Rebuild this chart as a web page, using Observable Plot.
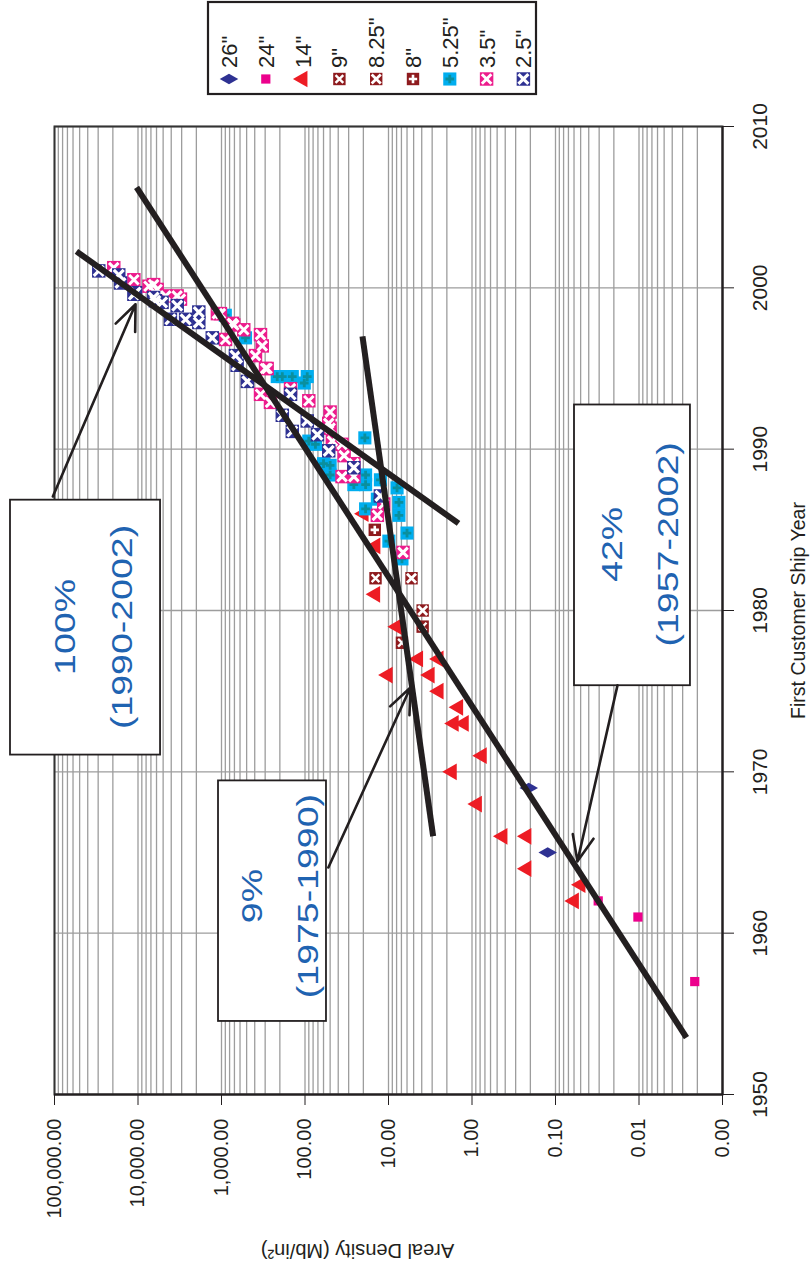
<!DOCTYPE html>
<html>
<head>
<meta charset="utf-8">
<script src="https://cdn.jsdelivr.net/npm/d3@7"></script>
<script src="https://cdn.jsdelivr.net/npm/@observablehq/plot@0.6"></script>
<style>
html, body { margin: 0; padding: 0; background: #fff; overflow: hidden; width: 810px; height: 1269px; }
#rot { position: absolute; left: 0; top: 0; width: 1269px; height: 810px; transform-origin: 0 0; transform: translateY(1269px) rotate(-90deg); font-family: "Liberation Sans", Arial, sans-serif; }
#legend { position: absolute; left: 1174px; top: 207px; }
</style>
</head>
<body>
<div id="rot"></div>
<script>
// ---- data ----
const seriesNames = ["26\"", "24\"", "14\"", "9\"", "8.25\"", "8\"", "5.25\"", "3.5\"", "2.5\""];
const yearTicks = [1950, 1960, 1970, 1980, 1990, 2000, 2010];
const densityTicks = [0.001, 0.01, 0.1, 1, 10, 100, 1000, 10000, 100000];

const d26 = [[1965, 0.124], [1969, 0.209]];
const d24 = [[1957, 0.00215], [1961, 0.0103], [1962, 0.0308]];
const d14 = [[1962, 0.060], [1963, 0.050], [1964, 0.222], [1966, 0.43], [1966, 0.222], [1968, 0.87], [1970, 1.74], [1971, 0.76], [1973, 1.65], [1973, 1.25], [1974, 1.46], [1975, 2.5], [1976, 10.2], [1976, 3.2], [1977, 4.4], [1977, 2.5], [1979, 7.9], [1981, 14.4], [1984, 14.3], [1986, 19.8]];
const d9 = [[1978, 6.9], [1979, 3.9], [1982, 14.3]];
const d825 = [[1980, 3.9], [1982, 5.3]];
const d8 = [[1985, 14.6]];
const d525 = [[1983.2, 6.9], [1984.3, 9.9], [1984.8, 6.0], [1985.9, 7.5], [1986.3, 18.8], [1986.7, 7.5], [1986.9, 13.6], [1987.6, 7.9], [1987.8, 18.8], [1987.8, 26], [1988.1, 12.5], [1988.4, 18.8], [1988.4, 50], [1989.0, 50], [1989.1, 60], [1990.3, 75], [1990.5, 90], [1990.7, 19.2], [1994.1, 102], [1994.5, 94], [1994.5, 142], [1994.5, 187], [1994.5, 215], [1996.9, 516], [1998.3, 900]];
const d35 = [[1983.6, 6.7], [1985.9, 13.6], [1986.6, 11.4], [1988.3, 26], [1988.3, 36], [1989.1, 26], [1989.6, 34], [1990.3, 36], [1990.5, 47], [1991.3, 50], [1991.6, 52], [1992.3, 50], [1993.0, 90], [1992.9, 259], [1993.4, 341], [1993.75, 149], [1995.0, 284], [1995.0, 297], [1995.8, 392], [1996.4, 325], [1996.8, 895], [1997.1, 341], [1997.4, 541], [1997.7, 713], [1997.8, 740], [1998.4, 1030], [1998.4, 1120], [1999.3, 3100], [1999.5, 3400], [1999.5, 4650], [1999.9, 5900], [2000.1, 7400], [2000.2, 6500], [2000.5, 11200], [2001.25, 19500]];
const d25 = [[1987.1, 12.5], [1988.85, 26], [1989.9, 52], [1990.9, 71], [1991.1, 142], [1991.75, 94], [1992.1, 187], [1993.4, 149], [1994.2, 490], [1995.2, 650], [1995.8, 681], [1996.9, 1290], [1997.85, 1870], [1998.05, 2690], [1998.05, 4090], [1998.5, 1870], [1998.9, 3390], [1999.1, 5150], [1999.2, 6200], [1999.4, 6500], [1999.6, 11200], [1999.7, 10700], [2000.3, 16200], [2000.8, 17000], [2001.05, 29500]];

// trend lines [year1, density1, year2, density2]
const trendLines = [
  [2002.26, 54600, 1985.4, 1.45],     // 100%
  [2006.23, 10400, 1953.53, 0.0027],  // 42%
  [1996.99, 20.5, 1966.01, 2.92]      // 9%
];
// annotation labels
const noteLabels = ["100%\n(1990-2002)", "9%\n(1975-1990)", "42%\n(1957-2002)"];
const noteYears = [1978.98, 1962.3, 1984.1];
const noteDensities = [42500, 245, 0.01197];
const noteBoxes = [[1971.1, 1986.9, 336500, 5370], [1954.59, 1969.5, 1086, 55.3], [1975.4, 1992.8, 0.0592, 0.00242]];
const noteArrows = [[1987.07, 104700, 1998.98, 10700], [1964.07, 52.5, 1975.23, 5.46], [1975.36, 0.0181, 1964.45, 0.0546]];

// ---- styles per series ----
const styles = [
  {data: d26, symbol: "diamond", r: 5.6, fill: "#2E3192"},
  {data: d24, symbol: "square", r: 5.2, fill: "#EC008C"},
  {data: d14, symbol: "triangle", r: 6.2, fill: "#ED1C24"},
  {data: d9, symbol: "square", r: 7, fill: "#8E1B1E", inner: "times", innerR: 3.6, innerFill: "#fff", innerW: 2.4},
  {data: d825, symbol: "square", r: 7, fill: "#8E1B1E", inner: "times", innerR: 4.2, innerFill: "#fff", innerW: 2.8},
  {data: d8, symbol: "square", r: 7, fill: "#8E1B1E", inner: "plus", innerR: 2.8, innerFill: "#fff", innerW: 2.6},
  {data: d525, symbol: "square", r: 7.4, fill: "#00AEEF", inner: "plus", innerR: 2.9, innerFill: "#0A8F9E", innerW: 2.8},
  {data: d35, symbol: "square", r: 7.6, fill: "#EC1C8C", inner: "times", innerR: 4.4, innerFill: "#fff", innerW: 3.0},
  {data: d25, symbol: "square", r: 7.6, fill: "#2E3192", inner: "times", innerR: 4.6, innerFill: "#fff", innerW: 3.2}
];

const minorGrid = [];
for (let n = -3; n <= 4; n++) for (let k = 1; k <= 9; k++) minorGrid.push(k * Math.pow(10, n));
minorGrid.push(100000);

const ink = "#231F20";
const noteBlue = "#1F63B1";
const marks = [];
marks.push(Plot.ruleY(minorGrid, {stroke: "#9d9d9d", strokeWidth: 1.3}));
marks.push(Plot.ruleX(yearTicks, {stroke: "#9d9d9d", strokeWidth: 1.3}));
marks.push(Plot.frame({stroke: "#333", strokeWidth: 2}));
marks.push(Plot.axisY({ticks: densityTicks, tickFormat: d3.format(",.2f"), tickSize: 10, tickPadding: 14, fontSize: 20, label: null, stroke: ink, color: ink}));
marks.push(Plot.axisX({ticks: yearTicks, tickFormat: d => String(d), tickSize: 12, tickPadding: 18, fontSize: 21, label: null, stroke: ink, color: ink}));
marks.push(Plot.ruleY([0.001], {stroke: ink, strokeWidth: 2}));
marks.push(Plot.ruleX([1950], {stroke: ink, strokeWidth: 2}));

for (const s of styles) {
  marks.push(Plot.dot(s.data, {x: d => d[0], y: d => d[1], symbol: s.symbol, r: s.r, fill: s.fill, stroke: "none"}));
  if (s.inner) marks.push(Plot.dot(s.data, {x: d => d[0], y: d => d[1], symbol: s.inner, r: s.innerR, stroke: s.innerFill, strokeWidth: s.innerW, fill: "none"}));
}

marks.push(Plot.link(trendLines, {x1: d => d[0], y1: d => d[1], x2: d => d[2], y2: d => d[3], stroke: ink, strokeWidth: 6}));
marks.push(Plot.rect(noteBoxes, {x1: d => d[0], x2: d => d[1], y1: d => d[2], y2: d => d[3], fill: "#fff", stroke: ink, strokeWidth: 1.8}));
marks.push(Plot.text(noteLabels, {x: (d, i) => noteYears[i], y: (d, i) => noteDensities[i], text: d => d, fontSize: 30, lineHeight: 1.87, fill: noteBlue, textAnchor: "middle", lineAnchor: "middle"}));
marks.push(Plot.arrow(noteArrows, {x1: d => d[0], y1: d => d[1], x2: d => d[2], y2: d => d[3], stroke: ink, strokeWidth: 2.6, headLength: 16, headAngle: 45}));
marks.push(Plot.text(["First Customer Ship Year"], {frameAnchor: "bottom", dy: 82, lineAnchor: "bottom", fontSize: 19.5, fill: ink}));
marks.push(Plot.text(["Areal Density (Mb/in²)"], {frameAnchor: "left", dx: -156, dy: -31, rotate: -90, textAnchor: "middle", lineAnchor: "middle", fontSize: 20, fill: ink}));

const chart = Plot.plot({
  width: 1269,
  height: 810,
  marginLeft: 174,
  marginRight: 127,
  marginTop: 54,
  marginBottom: 88,
  x: {domain: [1950, 2010], axis: null},
  y: {type: "log", domain: [0.001, 100000], axis: null},
  style: {background: "#fff", fontFamily: "'Liberation Sans', Arial, sans-serif", fontSize: "20px", overflow: "visible", color: ink},
  marks
});
const rot = document.getElementById("rot");
rot.appendChild(chart);

// widen the annotation lettering (the source boxes use stretched type)
d3.select(chart).selectAll("g").filter(function() { return this.getAttribute("fill") === noteBlue; })
  .selectAll("text").each(function() {
    const t = this.getAttribute("transform") || "";
    this.setAttribute("transform", t + " scale(1.25,1)");
  });

// ---- legend ----
const lg = d3.select(rot).append("svg").attr("id", "legend").attr("width", 96).attr("height", 332)
  .style("overflow", "visible");
lg.append("rect").attr("x", 1).attr("y", 1).attr("width", 92).attr("height", 328).attr("fill", "#fff").attr("stroke", ink).attr("stroke-width", 2.2);
const symMap = {square: d3.symbolSquare, diamond: d3.symbolDiamond, triangle: d3.symbolTriangle, times: d3.symbolTimes, plus: d3.symbolPlus};
seriesNames.forEach((name, i) => {
  const s = styles[i];
  const g = lg.append("g").attr("transform", `translate(16,${22 + i * 36.8})`);
  const sc = 1;
  g.append("path").attr("d", d3.symbol(symMap[s.symbol], Math.PI * (s.r * sc) ** 2)()).attr("fill", s.fill);
  if (s.inner) g.append("path").attr("d", d3.symbol(symMap[s.inner], Math.PI * (s.innerR * sc) ** 2)()).attr("fill", "none").attr("stroke", s.innerFill).attr("stroke-width", s.innerW);
  g.append("text").attr("x", 11).attr("y", 0).attr("dy", "0.36em").attr("font-size", 22).attr("fill", ink).text(name);
});
</script>
</body>
</html>
